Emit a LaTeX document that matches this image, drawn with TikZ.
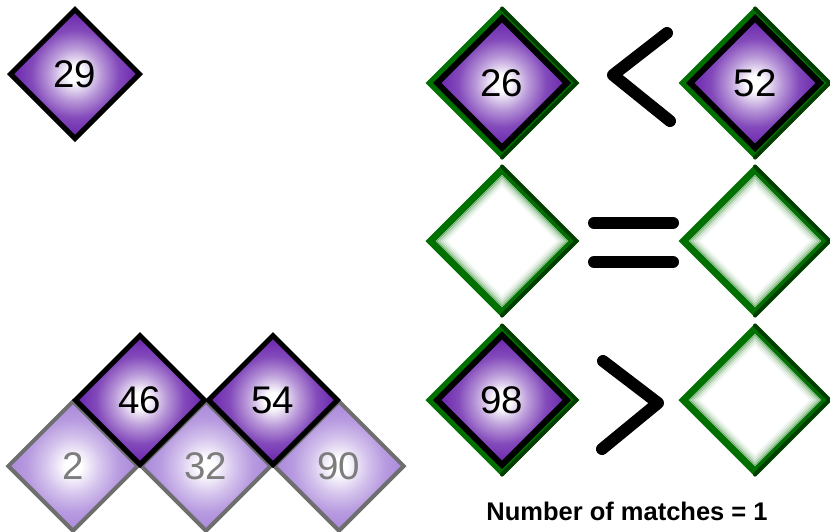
\documentclass[tikz,border=0pt]{standalone}
\usepackage{fontspec}
\setmainfont{Liberation Sans}
\usetikzlibrary{shapes.geometric}
\definecolor{dpurple}{RGB}{104,34,172}
\definecolor{lpurple}{RGB}{170,136,218}
\definecolor{gborder}{RGB}{110,110,110}
\definecolor{gtext}{RGB}{125,125,125}
\definecolor{mgreen}{RGB}{0,112,0}
\definecolor{dgreen}{RGB}{0,62,0}
\pgfdeclareradialshading{purpleglow}{\pgfpoint{0bp}{0bp}}{%
  color(0bp)=(white); color(3bp)=(white);
  color(10bp)=(dpurple!45!white); color(17bp)=(dpurple!82!white);
  color(25bp)=(dpurple); color(50bp)=(dpurple)}
\pgfdeclareradialshading{lightglow}{\pgfpoint{0bp}{0bp}}{%
  color(0bp)=(white); color(3bp)=(white);
  color(11bp)=(lpurple!50!white); color(18bp)=(lpurple!85!white);
  color(25bp)=(lpurple); color(50bp)=(lpurple)}
\tikzset{
  dbase/.style={shape=diamond, inner sep=0pt, minimum width=131pt, minimum height=131pt,
    font=\fontsize{38.5}{40}\selectfont, line join=miter},
  numbox/.style={dbase, draw=black, line width=5pt, shading=purpleglow},
  fadedbox/.style={dbase, draw=gborder, line width=4pt, shading=lightglow, text=gtext},
  greenbox/.style={dbase, minimum width=146pt, minimum height=146pt, draw=mgreen, line width=7pt},
  innerbox/.style={numbox, line width=6pt, minimum width=132pt, minimum height=132pt},
  sym/.style={line width=12pt, line cap=round, line join=round},
}
\newcommand{\rightshade}[1]{%
  \draw[dgreen, line width=4pt, line cap=round] ([yshift=-2pt]#1.north) -- ([xshift=-2pt]#1.east) -- ([yshift=2pt]#1.south);}
\newcommand{\innerglow}[1]{%
  \foreach \k/\o in {1/0.6,2/0.42,3/0.28,4/0.17,5/0.09,6/0.04}{
    \pgfmathsetmacro{\dd}{5+2.6*\k}
    \draw[mgreen, opacity=\o, line width=2.4pt]
      ([yshift=-\dd pt]#1.north) -- ([xshift=-\dd pt]#1.east) --
      ([yshift=\dd pt]#1.south) -- ([xshift=\dd pt]#1.west) -- cycle;}}
\begin{document}
\begin{tikzpicture}[x=1pt,y=-1pt]
\useasboundingbox (0,0) rectangle (830,531);
% single
\node[numbox] (n29) at (75,74) {29};
% bottom cluster
\node[fadedbox] (n2)  at (73,466) {2};
\node[fadedbox] (n32) at (206,466) {32};
\node[fadedbox] (n90) at (339,466) {90};
\node[numbox] (n46) at (140,400) {46};
\node[numbox] (n54) at (273,400) {54};
% right column
\node[greenbox, fill=black] (g1) at (502,83) {};
\node[greenbox, fill=black] (g2) at (755,83) {};
\node[greenbox, fill=white] (g3) at (502,241) {};
\node[greenbox, fill=white] (g4) at (755,241) {};
\node[greenbox, fill=black] (g5) at (502,400) {};
\node[greenbox, fill=white] (g6) at (755,400) {};
\foreach \g in {g1,g2,g3,g4,g5,g6}{\rightshade{\g}}
\innerglow{g3}\innerglow{g4}\innerglow{g6}
\node[innerbox] (n26) at (g1) {26};
\node[innerbox] (n52) at (g2) {52};
\node[innerbox] (n98) at (g5) {98};
% comparison symbols
\draw[sym] (667,33) -- (613,75) -- (670,121);
\draw[sym] (594,223) -- (673,223);
\draw[sym] (594,262) -- (673,262);
\draw[sym] (603,361) -- (658,403) -- (602,449);
\node[font=\bfseries\fontsize{25.5}{28}\selectfont, anchor=base] (lbl) at (627,520) {Number of matches = 1};
\end{tikzpicture}
\end{document}
